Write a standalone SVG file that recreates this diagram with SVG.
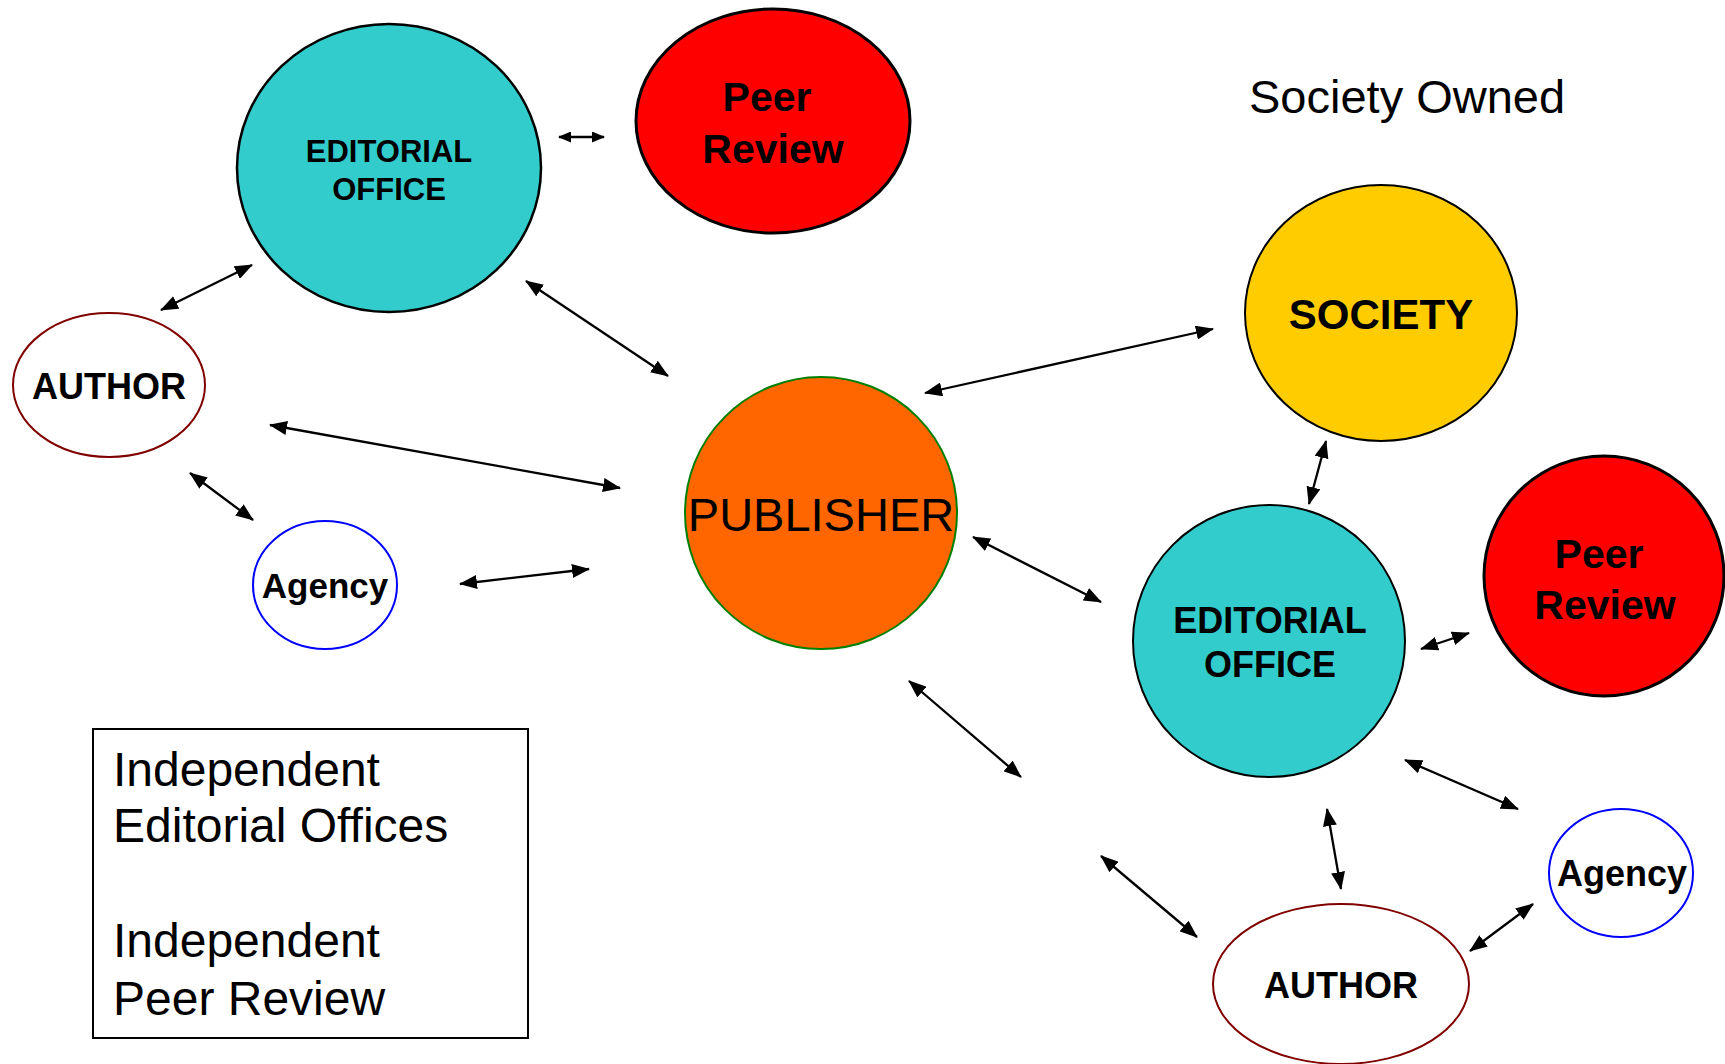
<svg xmlns="http://www.w3.org/2000/svg" width="1725" height="1064" viewBox="0 0 1725 1064">
<style>
.b{font-family:"Liberation Sans",Arial,sans-serif;font-weight:bold;fill:#000;text-anchor:middle}
.r{font-family:"Liberation Sans",Arial,sans-serif;fill:#000}
.cn line{stroke:#000;stroke-width:2.3;marker-start:url(#ah);marker-end:url(#ah)}
</style>
<defs>
<marker id="ah" viewBox="0 0 18 14" refX="17" refY="7" markerWidth="18" markerHeight="14" markerUnits="userSpaceOnUse" orient="auto-start-reverse">
<path d="M0,0 L18,7 L0,14 z" fill="#000"/>
</marker>
<marker id="ahs" viewBox="0 0 13 11" refX="12" refY="5.5" markerWidth="13" markerHeight="11" markerUnits="userSpaceOnUse" orient="auto-start-reverse">
<path d="M0,0 L13,5.5 L0,11 z" fill="#000"/>
</marker>
</defs>
<rect width="1725" height="1064" fill="#fff"/>

<g id="eo-left">
<ellipse cx="389" cy="168" rx="152" ry="144" fill="#33CCCC" stroke="#000" stroke-width="2.5"/>
<text class="b" x="389" y="162" font-size="31">EDITORIAL</text>
<text class="b" x="389" y="200" font-size="31">OFFICE</text>
</g>
<g id="peer-left">
<ellipse cx="773" cy="121" rx="137" ry="112" fill="#FF0000" stroke="#000" stroke-width="3"/>
<text class="b" x="767" y="111" font-size="41">Peer</text>
<text class="b" x="773" y="163" font-size="41">Review</text>
</g>
<g id="author-left">
<ellipse cx="109" cy="385" rx="96" ry="72" fill="#fff" stroke="#800000" stroke-width="2"/>
<text class="b" x="109" y="399" font-size="36">AUTHOR</text>
</g>
<g id="agency-left">
<ellipse cx="325" cy="585" rx="72" ry="64" fill="#fff" stroke="#0000FF" stroke-width="2"/>
<text class="b" x="325" y="598" font-size="35">Agency</text>
</g>
<g id="publisher">
<ellipse cx="821" cy="513" rx="136" ry="136" fill="#FF6600" stroke="#008000" stroke-width="2"/>
<text class="r" x="821" y="531" font-size="47" text-anchor="middle">PUBLISHER</text>
</g>
<g id="society-owned-title">
<text class="r" x="1249" y="113" font-size="47">Society Owned</text>
</g>
<g id="society">
<ellipse cx="1381" cy="313" rx="136" ry="128" fill="#FFCC00" stroke="#000" stroke-width="2"/>
<text class="b" x="1381" y="329" font-size="42">SOCIETY</text>
</g>
<g id="eo-right">
<ellipse cx="1269" cy="641" rx="136" ry="136" fill="#33CCCC" stroke="#000" stroke-width="2"/>
<text class="b" x="1270" y="633" font-size="36">EDITORIAL</text>
<text class="b" x="1270" y="677" font-size="36">OFFICE</text>
</g>
<g id="peer-right">
<ellipse cx="1604" cy="576" rx="120" ry="120" fill="#FF0000" stroke="#000" stroke-width="3"/>
<text class="b" x="1599" y="568" font-size="41">Peer</text>
<text class="b" x="1605" y="619" font-size="41">Review</text>
</g>
<g id="agency-right">
<ellipse cx="1621" cy="873" rx="72" ry="64" fill="#fff" stroke="#0000FF" stroke-width="2"/>
<text class="b" x="1622" y="886" font-size="36">Agency</text>
</g>
<g id="author-right">
<ellipse cx="1341" cy="984" rx="128" ry="80" fill="#fff" stroke="#800000" stroke-width="2"/>
<text class="b" x="1341" y="998" font-size="36">AUTHOR</text>
</g>
<g id="legend">
<rect x="93" y="729" width="435" height="309" fill="#fff" stroke="#000" stroke-width="2"/>
<text class="r" x="113" y="786" font-size="48">Independent</text>
<text class="r" x="113" y="842" font-size="48">Editorial Offices</text>
<text class="r" x="113" y="957" font-size="48">Independent</text>
<text class="r" x="113" y="1015" font-size="48">Peer Review</text>
</g>

<g id="connectors" class="cn">
<line x1="559" y1="137" x2="604" y2="137" style="marker-start:url(#ahs);marker-end:url(#ahs)"/>
<line x1="161" y1="310" x2="252" y2="265"/>
<line x1="526" y1="281" x2="668" y2="376"/>
<line x1="270" y1="425" x2="620" y2="488"/>
<line x1="190" y1="473" x2="253" y2="520"/>
<line x1="460" y1="584" x2="589" y2="569"/>
<line x1="925" y1="393" x2="1213" y2="329"/>
<line x1="1326" y1="441" x2="1309" y2="504"/>
<line x1="973" y1="537" x2="1101" y2="602"/>
<line x1="1421" y1="649" x2="1469" y2="633"/>
<line x1="909" y1="681" x2="1021" y2="777"/>
<line x1="1101" y1="856" x2="1197" y2="937"/>
<line x1="1405" y1="760" x2="1518" y2="809"/>
<line x1="1327" y1="809" x2="1341" y2="889"/>
<line x1="1470" y1="951" x2="1533" y2="904"/>
</g>
</svg>
